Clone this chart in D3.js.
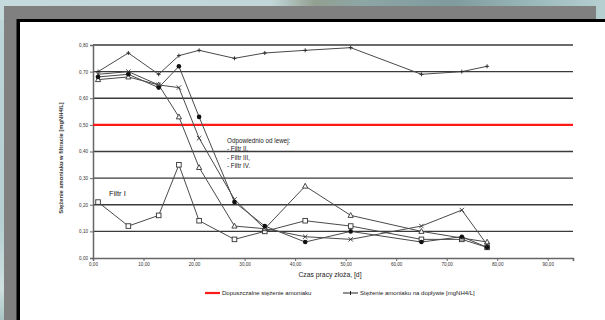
<!DOCTYPE html>
<html>
<head>
<meta charset="utf-8">
<script src="https://cdn.jsdelivr.net/npm/d3@7/dist/d3.min.js"></script>
<style>
  html, body { margin: 0; padding: 0; overflow: hidden; }
  body { width: 605px; height: 320px; }
  svg { display: block; font-family: "Liberation Sans", Arial, sans-serif; }
</style>
</head>
<body>
<svg id="chart" width="605" height="320"></svg>
<script>
// Days of filter bed operation at which samples were taken
const days = [1, 7, 13, 17, 21, 28, 34, 42, 51, 65, 73, 78];

// Ammonia concentration in the inflow [mgNH4/L]
const inflow = [0.70, 0.77, 0.69, 0.76, 0.78, 0.75, 0.77, 0.78, 0.79, 0.69, 0.70, 0.72];

// Ammonia concentration in the filtrate of each filter [mgNH4/L]
const filtr1 = [0.21, 0.12, 0.16, 0.35, 0.14, 0.07, 0.10, 0.14, 0.12, 0.07, 0.07, 0.04];
const filtr2 = [0.67, 0.68, 0.65, 0.53, 0.34, 0.12, 0.11, 0.27, 0.16, 0.10, 0.075, 0.06];
const filtr3 = [0.69, 0.70, 0.65, 0.64, 0.45, 0.22, 0.11, 0.08, 0.07, 0.12, 0.18, 0.05];
const filtr4 = [0.68, 0.69, 0.64, 0.72, 0.53, 0.21, 0.12, 0.06, 0.10, 0.06, 0.08, 0.04];

// Permissible ammonia concentration
const limitValue = 0.50;

// Axis ticks
const xTicks = [0, 10, 20, 30, 40, 50, 60, 70, 80, 90];
const yTicks = [0, 0.1, 0.2, 0.3, 0.4, 0.5, 0.6, 0.7, 0.8];
const xDomain = [0, 95];
const yDomain = [0, 0.8];

const fmt = v => d3.format(".2f")(v).replace(".", ",");

const svg = d3.select("#chart");

// ---- page backdrop, grey frame and white sheet ----
const defs = svg.append("defs");
const bg = defs.append("linearGradient").attr("id", "bgTop").attr("x1", 0).attr("x2", 1).attr("y1", 0).attr("y2", 0);
[[0, "#c4dadd"], [0.45, "#c0d6d8"], [0.52, "#93a091"], [0.6, "#8da6a6"], [0.75, "#7f9b9d"], [0.9, "#9fbcbe"], [1, "#b6d0d2"]]
  .forEach(([o, c]) => bg.append("stop").attr("offset", o).attr("stop-color", c));
const bgL = defs.append("linearGradient").attr("id", "bgLeft").attr("x1", 0).attr("x2", 0).attr("y1", 0).attr("y2", 1);
[[0, "#bed6d9"], [0.7, "#b5cfd2"], [0.9, "#cfe0e0"], [1, "#a9c3c4"]]
  .forEach(([o, c]) => bgL.append("stop").attr("offset", o).attr("stop-color", c));

svg.append("rect").attr("x", 0).attr("y", 0).attr("width", 605).attr("height", 320).attr("fill", "url(#bgLeft)");
svg.append("rect").attr("x", 0).attr("y", 0).attr("width", 605).attr("height", 20).attr("fill", "url(#bgTop)");
svg.append("rect").attr("x", 4).attr("y", 6).attr("width", 592).attr("height", 320).attr("fill", "#808080");
svg.append("rect").attr("x", 16.5).attr("y", 19).attr("width", 600).attr("height", 310).attr("fill", "#000");
svg.append("rect").attr("x", 20).attr("y", 22).attr("width", 600).attr("height", 310).attr("fill", "#fff");

// ---- scales ----
const x = d3.scaleLinear().domain(xDomain).range([93, 573]);
const y = d3.scaleLinear().domain(yDomain).range([258, 45]);

// ---- horizontal gridlines ----
svg.append("g").selectAll("line").data(yTicks.slice(1)).join("line")
  .attr("x1", x(xDomain[0])).attr("x2", x(xDomain[1]))
  .attr("y1", d => y(d)).attr("y2", d => y(d))
  .attr("stroke", "#3a3a3a").attr("stroke-width", 1.3);

// ---- axes ----
const yAxis = svg.append("g").attr("transform", `translate(${x(0)},0)`)
  .call(d3.axisLeft(y).tickValues(yTicks).tickFormat(fmt).tickSize(3).tickPadding(2));
const xAxis = svg.append("g").attr("transform", `translate(0,${y(0)})`)
  .call(d3.axisBottom(x).tickValues(xTicks).tickFormat(fmt).tickSize(3).tickPadding(2));
[xAxis, yAxis].forEach(g => {
  g.select(".domain").attr("stroke", "#666").attr("stroke-width", 1.5);
  g.selectAll(".tick line").attr("stroke", "#666").attr("stroke-width", 1);
  g.selectAll(".tick text").attr("font-size", 4.6).attr("fill", "#333").attr("font-family", "Liberation Sans, Arial, sans-serif");
});

// ---- permissible concentration line ----
svg.append("line")
  .attr("x1", x(xDomain[0])).attr("x2", x(xDomain[1]))
  .attr("y1", y(limitValue)).attr("y2", y(limitValue))
  .attr("stroke", "#ff1a1a").attr("stroke-width", 2.2);

// ---- series ----
const line = d3.line().x((d, i) => x(days[i])).y(d => y(d));
const seriesList = [
  { values: filtr1, marker: "square" },
  { values: filtr2, marker: "triangle" },
  { values: filtr3, marker: "cross" },
  { values: filtr4, marker: "dot" },
  { values: inflow, marker: "plus" }
];

seriesList.forEach(s => {
  svg.append("path").datum(s.values)
    .attr("d", line).attr("fill", "none")
    .attr("stroke", "#4a4a4a").attr("stroke-width", 1);
});

seriesList.forEach(s => {
  const g = svg.append("g");
  s.values.forEach((v, i) => {
    const cx = x(days[i]), cy = y(v);
    if (s.marker === "square") {
      g.append("rect").attr("x", cx - 2.3).attr("y", cy - 2.3).attr("width", 4.6).attr("height", 4.6)
        .attr("fill", "#fff").attr("stroke", "#333").attr("stroke-width", 0.9);
    } else if (s.marker === "triangle") {
      g.append("path").attr("d", `M${cx},${cy - 2.8}L${cx + 2.6},${cy + 2}L${cx - 2.6},${cy + 2}Z`)
        .attr("fill", "#fff").attr("stroke", "#333").attr("stroke-width", 0.9);
    } else if (s.marker === "cross") {
      g.append("path").attr("d", `M${cx - 2.2},${cy - 2.2}L${cx + 2.2},${cy + 2.2}M${cx - 2.2},${cy + 2.2}L${cx + 2.2},${cy - 2.2}`)
        .attr("stroke", "#333").attr("stroke-width", 0.9);
    } else if (s.marker === "dot") {
      g.append("circle").attr("cx", cx).attr("cy", cy).attr("r", 2.3).attr("fill", "#111");
    } else {
      g.append("path").attr("d", `M${cx - 2},${cy}L${cx + 2},${cy}M${cx},${cy - 2}L${cx},${cy + 2}`)
        .attr("stroke", "#222").attr("stroke-width", 0.9);
    }
  });
});

// ---- axis titles ----
svg.append("text")
  .attr("transform", `translate(63,158) rotate(-90)`)
  .attr("text-anchor", "middle").attr("font-size", 5.8).attr("font-weight", "bold").attr("fill", "#333")
  .text("Stężenie amoniaku w filtracie [mgNH4/L]");
svg.append("text")
  .attr("x", 330).attr("y", 277)
  .attr("text-anchor", "middle").attr("font-size", 6.8).attr("fill", "#222")
  .text("Czas pracy złoża, [d]");

// ---- annotations ----
svg.append("text").attr("x", 109).attr("y", 196).attr("font-size", 7.6).attr("fill", "#222").text("Filtr I");
const note = svg.append("text").attr("font-size", 6.3).attr("fill", "#222");
["Odpowiednio  od lewej:", "- Filtr II,", "- Filtr III,", "- Filtr IV."].forEach((t, i) => {
  note.append("tspan").attr("x", 227).attr("y", 143 + i * 8.3).text(t);
});

// ---- legend ----
const lg = svg.append("g").attr("font-size", 6).attr("fill", "#222");
lg.append("line").attr("x1", 205).attr("x2", 220).attr("y1", 293).attr("y2", 293)
  .attr("stroke", "#ff1a1a").attr("stroke-width", 2.2);
lg.append("text").attr("x", 222).attr("y", 295).text("Dopuszczalne stężenie amoniaku");
lg.append("line").attr("x1", 343).attr("x2", 358).attr("y1", 293).attr("y2", 293)
  .attr("stroke", "#222").attr("stroke-width", 1);
lg.append("path").attr("d", "M350.5,291L350.5,295").attr("stroke", "#222").attr("stroke-width", 1);
lg.append("text").attr("x", 360).attr("y", 295).text("Stężenie amoniaku na dopływie [mgNH4/L]");
</script>
</body>
</html>
